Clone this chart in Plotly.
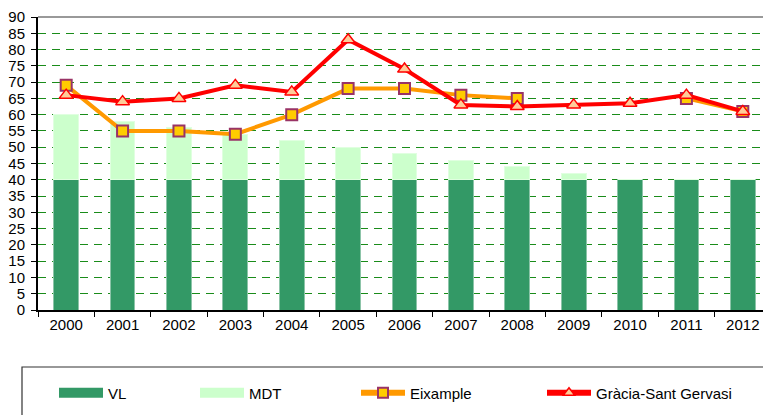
import plotly.graph_objects as go

years = ["2000", "2001", "2002", "2003", "2004", "2005", "2006",
         "2007", "2008", "2009", "2010", "2011", "2012"]
vl = [40, 40, 40, 40, 40, 40, 40, 40, 40, 40, 40, 40, 40]
mdt = [20, 18, 16, 14, 12, 10, 8, 6, 4, 2, 0, 0, 0]
eixample = [69, 55, 55, 54, 60, 68, 68, 66, 65, None, None, 65, 61]
gracia = [66, 64, 65, 69, 67, 83, 74, 63, 62.5, 63, 63.5, 66, 61]
y_ticks = list(range(0, 95, 5))

# page body has an 8px margin: figure drawn at (8,8)
OFF = 8
W, H = 771 - OFF, 415 - OFF
L, R, T, B = 38 - OFF, 0, 17 - OFF, 105
PW = W - L - R
PH = H - T - B


def xp(px):  # screen x -> paper
    return (px - OFF - L) / PW


def yp(py):  # screen y -> paper
    return (H - B - (py - OFF)) / PH


VL_C = "#339966"
MDT_C = "#CCFFCC"
EIX_C = "#FF9900"
GRA_C = "#FF0000"
FONT = "Liberation Sans, Arial, sans-serif"

fig = go.Figure()
fig.add_trace(go.Bar(x=years, y=vl, name="VL", marker=dict(color=VL_C, line=dict(color="#8cc4a8", width=1)),
                     width=0.44, showlegend=False))
fig.add_trace(go.Bar(x=years, y=mdt, name="MDT", marker=dict(color=MDT_C, line=dict(color="#e0ffe0", width=1)),
                     width=0.44, showlegend=False))
fig.add_trace(go.Scatter(x=years, y=eixample, name="Eixample", mode="lines+markers",
                         line=dict(color=EIX_C, width=4),
                         marker=dict(symbol="square", size=11, color="#FFCC00",
                                     line=dict(color="#993366", width=2)),
                         connectgaps=False, showlegend=False))
fig.add_trace(go.Scatter(x=years, y=gracia, name="Gràcia-Sant Gervasi", mode="lines+markers",
                         line=dict(color=GRA_C, width=4),
                         marker=dict(symbol="triangle-up", size=12, color="#FFCC99",
                                     line=dict(color=GRA_C, width=1.5)),
                         showlegend=False))

# legend entries
fig.add_trace(go.Scatter(x=[None], y=[None], name="VL", mode="lines",
                         line=dict(color=VL_C, width=12), legend="legend"))
fig.add_trace(go.Scatter(x=[None], y=[None], name="MDT", mode="lines",
                         line=dict(color=MDT_C, width=12), legend="legend2"))
fig.add_trace(go.Scatter(x=[None], y=[None], name="Eixample", mode="lines+markers",
                         line=dict(color=EIX_C, width=6),
                         marker=dict(symbol="square", size=10, color="#FFCC00",
                                     line=dict(color="#993366", width=2)),
                         legend="legend3"))
fig.add_trace(go.Scatter(x=[None], y=[None], name="Gràcia-Sant Gervasi", mode="lines+markers",
                         line=dict(color=GRA_C, width=6),
                         marker=dict(symbol="triangle-up", size=10, color="#FFCC99",
                                     line=dict(color=GRA_C, width=1.5)),
                         legend="legend4"))

leg_common = dict(orientation="h", yanchor="middle", xanchor="left", y=yp(393),
                  bgcolor="rgba(0,0,0,0)", borderwidth=0, itemwidth=44,
                  font=dict(family=FONT, size=15, color="#000000"))

fig.update_layout(
    width=W, height=H,
    margin=dict(l=L, r=R, t=T, b=B, autoexpand=False),
    paper_bgcolor="white", plot_bgcolor="white",
    barmode="stack",
    bargap=0.56,
    font=dict(family=FONT, size=14, color="#000000"),
    legend=dict(x=xp(54), **leg_common),
    legend2=dict(x=xp(195), **leg_common),
    legend3=dict(x=xp(356), **leg_common),
    legend4=dict(x=xp(542), **leg_common),
    xaxis=dict(type="category", showline=True, linecolor="#000000", linewidth=1.5,
               ticks="outside", tickson="boundaries", ticklen=5, tickcolor="#000000",
               tickfont=dict(size=15), showgrid=False, range=[-0.5, 12.5]),
    yaxis=dict(range=[0, 90], tickvals=y_ticks, showline=True, linecolor="#000000",
               linewidth=2, ticks="outside", ticklen=5, tickcolor="#000000",
               tickfont=dict(size=15), ticklabelstandoff=3,
               showgrid=True, gridcolor="#1a8c1a", gridwidth=1, griddash="8px,6px",
               zeroline=False),
    shapes=[
        dict(type="line", xref="paper", yref="paper", x0=0, x1=1.01, y0=1, y1=1,
             line=dict(color="#999999", width=2)),
        dict(type="rect", xref="paper", yref="paper", x0=xp(22), x1=xp(768),
             y0=yp(367), y1=yp(430), line=dict(color="#333333", width=1.2),
             fillcolor="rgba(0,0,0,0)"),
    ],
)

fig.write_html("out.html")
